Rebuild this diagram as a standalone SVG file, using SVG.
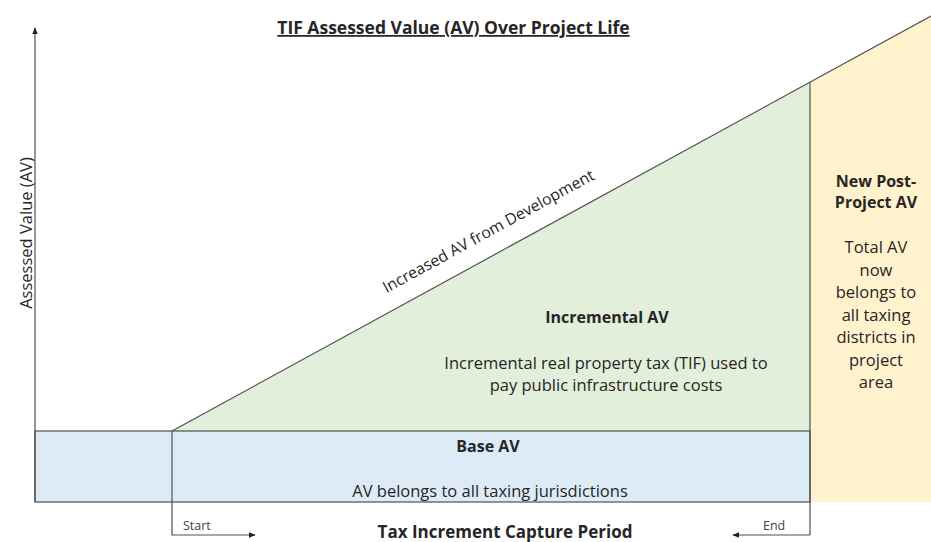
<svg xmlns="http://www.w3.org/2000/svg" width="931" height="542" viewBox="0 0 931 542">
<style>
.t{font-family:"Open Sans","Liberation Sans",sans-serif;fill:#262626;font-size:16.5px;text-anchor:middle}
.b{font-weight:bold;font-size:16px}
.s{font-size:12.5px;text-anchor:start;fill:#444}
.ln{stroke:#505050;stroke-width:1.2;fill:none}
</style>
<defs>
<marker id="ah" viewBox="0 0 10 10" refX="9" refY="5" markerWidth="6" markerHeight="6" orient="auto-start-reverse">
<path d="M0,1 L10,5 L0,9 z" fill="#222"/>
</marker>
</defs>
<rect width="931" height="542" fill="#fff"/>
<g id="post-project">
<polygon points="810,82 931,16 931,502 810,502" fill="#FFF2CC"/>
<text class="t b" x="876" y="187">New Post-</text>
<text class="t b" x="876" y="208">Project AV</text>
<text class="t" x="876" y="253">Total AV</text>
<text class="t" x="876" y="275.5">now</text>
<text class="t" x="876" y="298">belongs to</text>
<text class="t" x="876" y="320.5">all taxing</text>
<text class="t" x="876" y="343">districts in</text>
<text class="t" x="876" y="365.5">project</text>
<text class="t" x="876" y="388">area</text>
</g>
<g id="incremental">
<polygon points="172,431 810,82 810,431" fill="#E2EFDA"/>
<text class="t b" x="607" y="323">Incremental AV</text>
<text class="t" x="606" y="369">Incremental real property tax (TIF) used to</text>
<text class="t" x="606" y="391">pay public infrastructure costs</text>
</g>
<g id="base">
<rect x="35" y="431" width="775" height="71" style="fill:#DDEBF7;stroke:#505050;stroke-width:1.2"/>
<text class="t b" x="488" y="452">Base AV</text>
<text class="t" x="490" y="497">AV belongs to all taxing jurisdictions</text>
</g>
<g id="connectors">
<line class="ln" x1="35" y1="502" x2="35" y2="28" marker-end="url(#ah)"/>
<line class="ln" x1="172" y1="431" x2="931" y2="16"/>
<line class="ln" x1="810" y1="82" x2="810" y2="535"/>
<polyline class="ln" points="172,431 172,535 255,535" marker-end="url(#ah)"/>
<polyline class="ln" points="810,535 733,535" marker-end="url(#ah)"/>
</g>
<g id="labels">
<text class="t b" x="453.5" y="34" text-decoration="underline" style="font-size:17.5px">TIF Assessed Value (AV) Over Project Life</text>
<text class="t" transform="translate(32,233) rotate(-90)">Assessed Value (AV)</text>
<text class="t" style="font-size:15.8px" transform="translate(491,236) rotate(-28.7)">Increased AV from Development</text>
<text class="t s" x="183" y="530">Start</text>
<text class="t s" x="763" y="530">End</text>
<text class="t b" x="505" y="538" style="font-size:17px">Tax Increment Capture Period</text>
</g>
</svg>
